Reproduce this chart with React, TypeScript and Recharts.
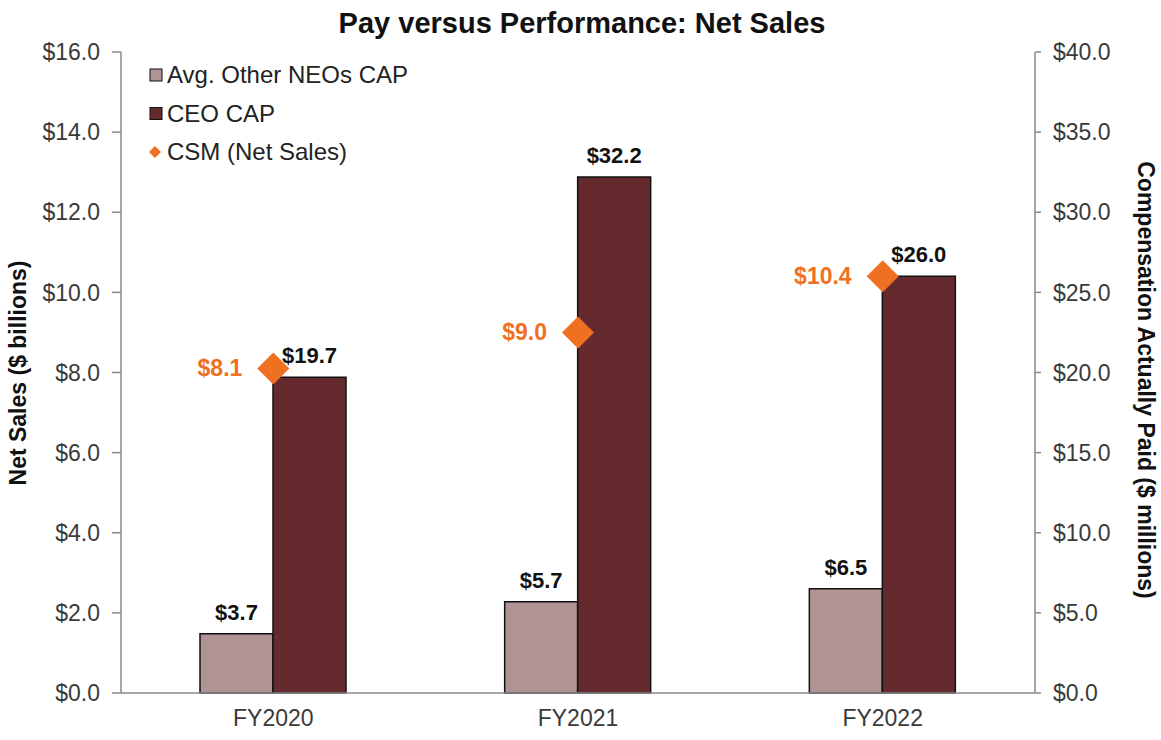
import React from 'react';
import { ComposedChart, Bar, Line, XAxis, YAxis, LabelList } from 'recharts';

const categories = ['FY2020', 'FY2021', 'FY2022'];
const avgOtherNeosCap = [3.7, 5.7, 6.5];
const ceoCap = [19.7, 32.2, 26.0];
const csmNetSales = [8.1, 9.0, 10.4];
const leftTicks = [0, 2, 4, 6, 8, 10, 12, 14, 16];
const rightTicks = [0, 5, 10, 15, 20, 25, 30, 35, 40];

const data = categories.map((c, i) => ({
  name: c,
  avg: avgOtherNeosCap[i],
  ceo: ceoCap[i],
  csm: csmNetSales[i],
}));

const FONT = '"Liberation Sans", Arial, sans-serif';
const AXIS = '#8a8a8a';
const TICK = '#3a3a3a';
const AVG_COLOR = '#b09394';
const CEO_COLOR = '#652a2d';
const ORANGE = '#f07022';
const FS = 23;

const fmt = (v: number) => `$${Number(v).toFixed(1)}`;

const Diamond = (props: any) => {
  const { cx, cy } = props;
  if (cx == null || cy == null) return null;
  const r = 16;
  return (
    <path
      d={`M${cx},${cy - r} L${cx + r},${cy} L${cx},${cy + r} L${cx - r},${cy} Z`}
      fill={ORANGE}
    />
  );
};

const CsmLabel = (props: any) => {
  const { x, y, value } = props;
  return (
    <text x={x - 31} y={y} dy={8} textAnchor="end" fill={ORANGE} fontWeight="bold" fontSize={23} fontFamily={FONT}>
      {fmt(value)}
    </text>
  );
};

const BarLabel = (props: any) => {
  const { x, y, width, value } = props;
  return (
    <text x={x + width / 2} y={y - 14} textAnchor="middle" fill="#111" fontWeight="bold" fontSize={22} fontFamily={FONT}>
      {fmt(value)}
    </text>
  );
};

const LeftAxisLabel = () => (
  <text
    x={18}
    y={373}
    transform="rotate(-90, 18, 373)"
    textAnchor="middle"
    dominantBaseline="central"
    fontWeight="bold"
    fontSize={23}
    fill="#111"
    fontFamily={FONT}
  >
    Net Sales ($ billions)
  </text>
);

const RightAxisLabel = () => (
  <text
    x={1146}
    y={380}
    transform="rotate(90, 1146, 380)"
    textAnchor="middle"
    dominantBaseline="central"
    fontWeight="bold"
    fontSize={23}
    fill="#111"
    fontFamily={FONT}
  >
    Compensation Actually Paid ($ millions)
  </text>
);

const legendItems = [
  { label: 'Avg. Other NEOs CAP', type: 'rect', color: AVG_COLOR },
  { label: 'CEO CAP', type: 'rect', color: CEO_COLOR },
  { label: 'CSM (Net Sales)', type: 'diamond', color: ORANGE },
];

export default function App() {
  return (
    <div style={{ position: 'absolute', left: 0, top: 0, width: 1161, height: 740, background: '#fff', fontFamily: FONT }}>
      <ComposedChart
        width={1161}
        height={740}
        data={data}
        margin={{ top: 52, right: 0, bottom: 0, left: 0 }}
        barGap={0}
        style={{ position: 'absolute', left: 0, top: 0 }}
      >
        <text x={582} y={33} textAnchor="middle" fontWeight="bold" fontSize={29} fill="#111" fontFamily={FONT}>
          Pay versus Performance: Net Sales
        </text>
        <XAxis
          dataKey="name"
          height={47}
          tickLine={false}
          axisLine={{ stroke: AXIS, strokeWidth: 1.5 }}
          tick={{ fill: TICK, fontSize: FS, fontFamily: FONT }}
          tickMargin={11}
        />
        <YAxis
          yAxisId="left"
          orientation="left"
          width={121}
          domain={[0, 16]}
          ticks={leftTicks}
          interval={0}
          tickFormatter={fmt}
          tickSize={9}
          tickMargin={12}
          axisLine={{ stroke: AXIS, strokeWidth: 1.5 }}
          tickLine={{ stroke: AXIS, strokeWidth: 1.5 }}
          tick={{ fill: TICK, fontSize: FS, fontFamily: FONT }}
        />
        <YAxis
          yAxisId="right"
          orientation="right"
          width={126}
          domain={[0, 40]}
          ticks={rightTicks}
          interval={0}
          tickFormatter={fmt}
          tickSize={6}
          tickMargin={12}
          axisLine={{ stroke: AXIS, strokeWidth: 1.5 }}
          tickLine={{ stroke: AXIS, strokeWidth: 1.5 }}
          tick={{ fill: TICK, fontSize: FS, fontFamily: FONT }}
        />
        <Bar yAxisId="right" dataKey="avg" name="Avg. Other NEOs CAP" fill={AVG_COLOR} stroke="#111" strokeWidth={1.5} barSize={73} isAnimationActive={false}>
          <LabelList dataKey="avg" content={<BarLabel />} />
        </Bar>
        <Bar yAxisId="right" dataKey="ceo" name="CEO CAP" fill={CEO_COLOR} stroke="#111" strokeWidth={1.5} barSize={73} isAnimationActive={false}>
          <LabelList dataKey="ceo" content={<BarLabel />} />
        </Bar>
        <Line
          yAxisId="left"
          dataKey="csm"
          name="CSM (Net Sales)"
          stroke="none"
          dot={<Diamond />}
          activeDot={false}
          isAnimationActive={false}
        >
          <LabelList dataKey="csm" content={<CsmLabel />} />
        </Line>
        <LeftAxisLabel />
        <RightAxisLabel />
        <g>
          {legendItems.map((it, i) => {
            const cy = 75 + i * 38.5;
            return (
              <g key={it.label}>
                {it.type === 'rect' ? (
                  <rect x={150} y={cy - 6} width={12} height={12} fill={it.color} stroke="#111" strokeWidth={1} />
                ) : (
                  <path d={`M155,${cy - 6} L161,${cy} L155,${cy + 6} L149,${cy} Z`} fill={it.color} />
                )}
                <text x={167} y={cy + 8} fontSize={24} fill="#222" fontFamily={FONT}>
                  {it.label}
                </text>
              </g>
            );
          })}
        </g>
      </ComposedChart>
    </div>
  );
}
